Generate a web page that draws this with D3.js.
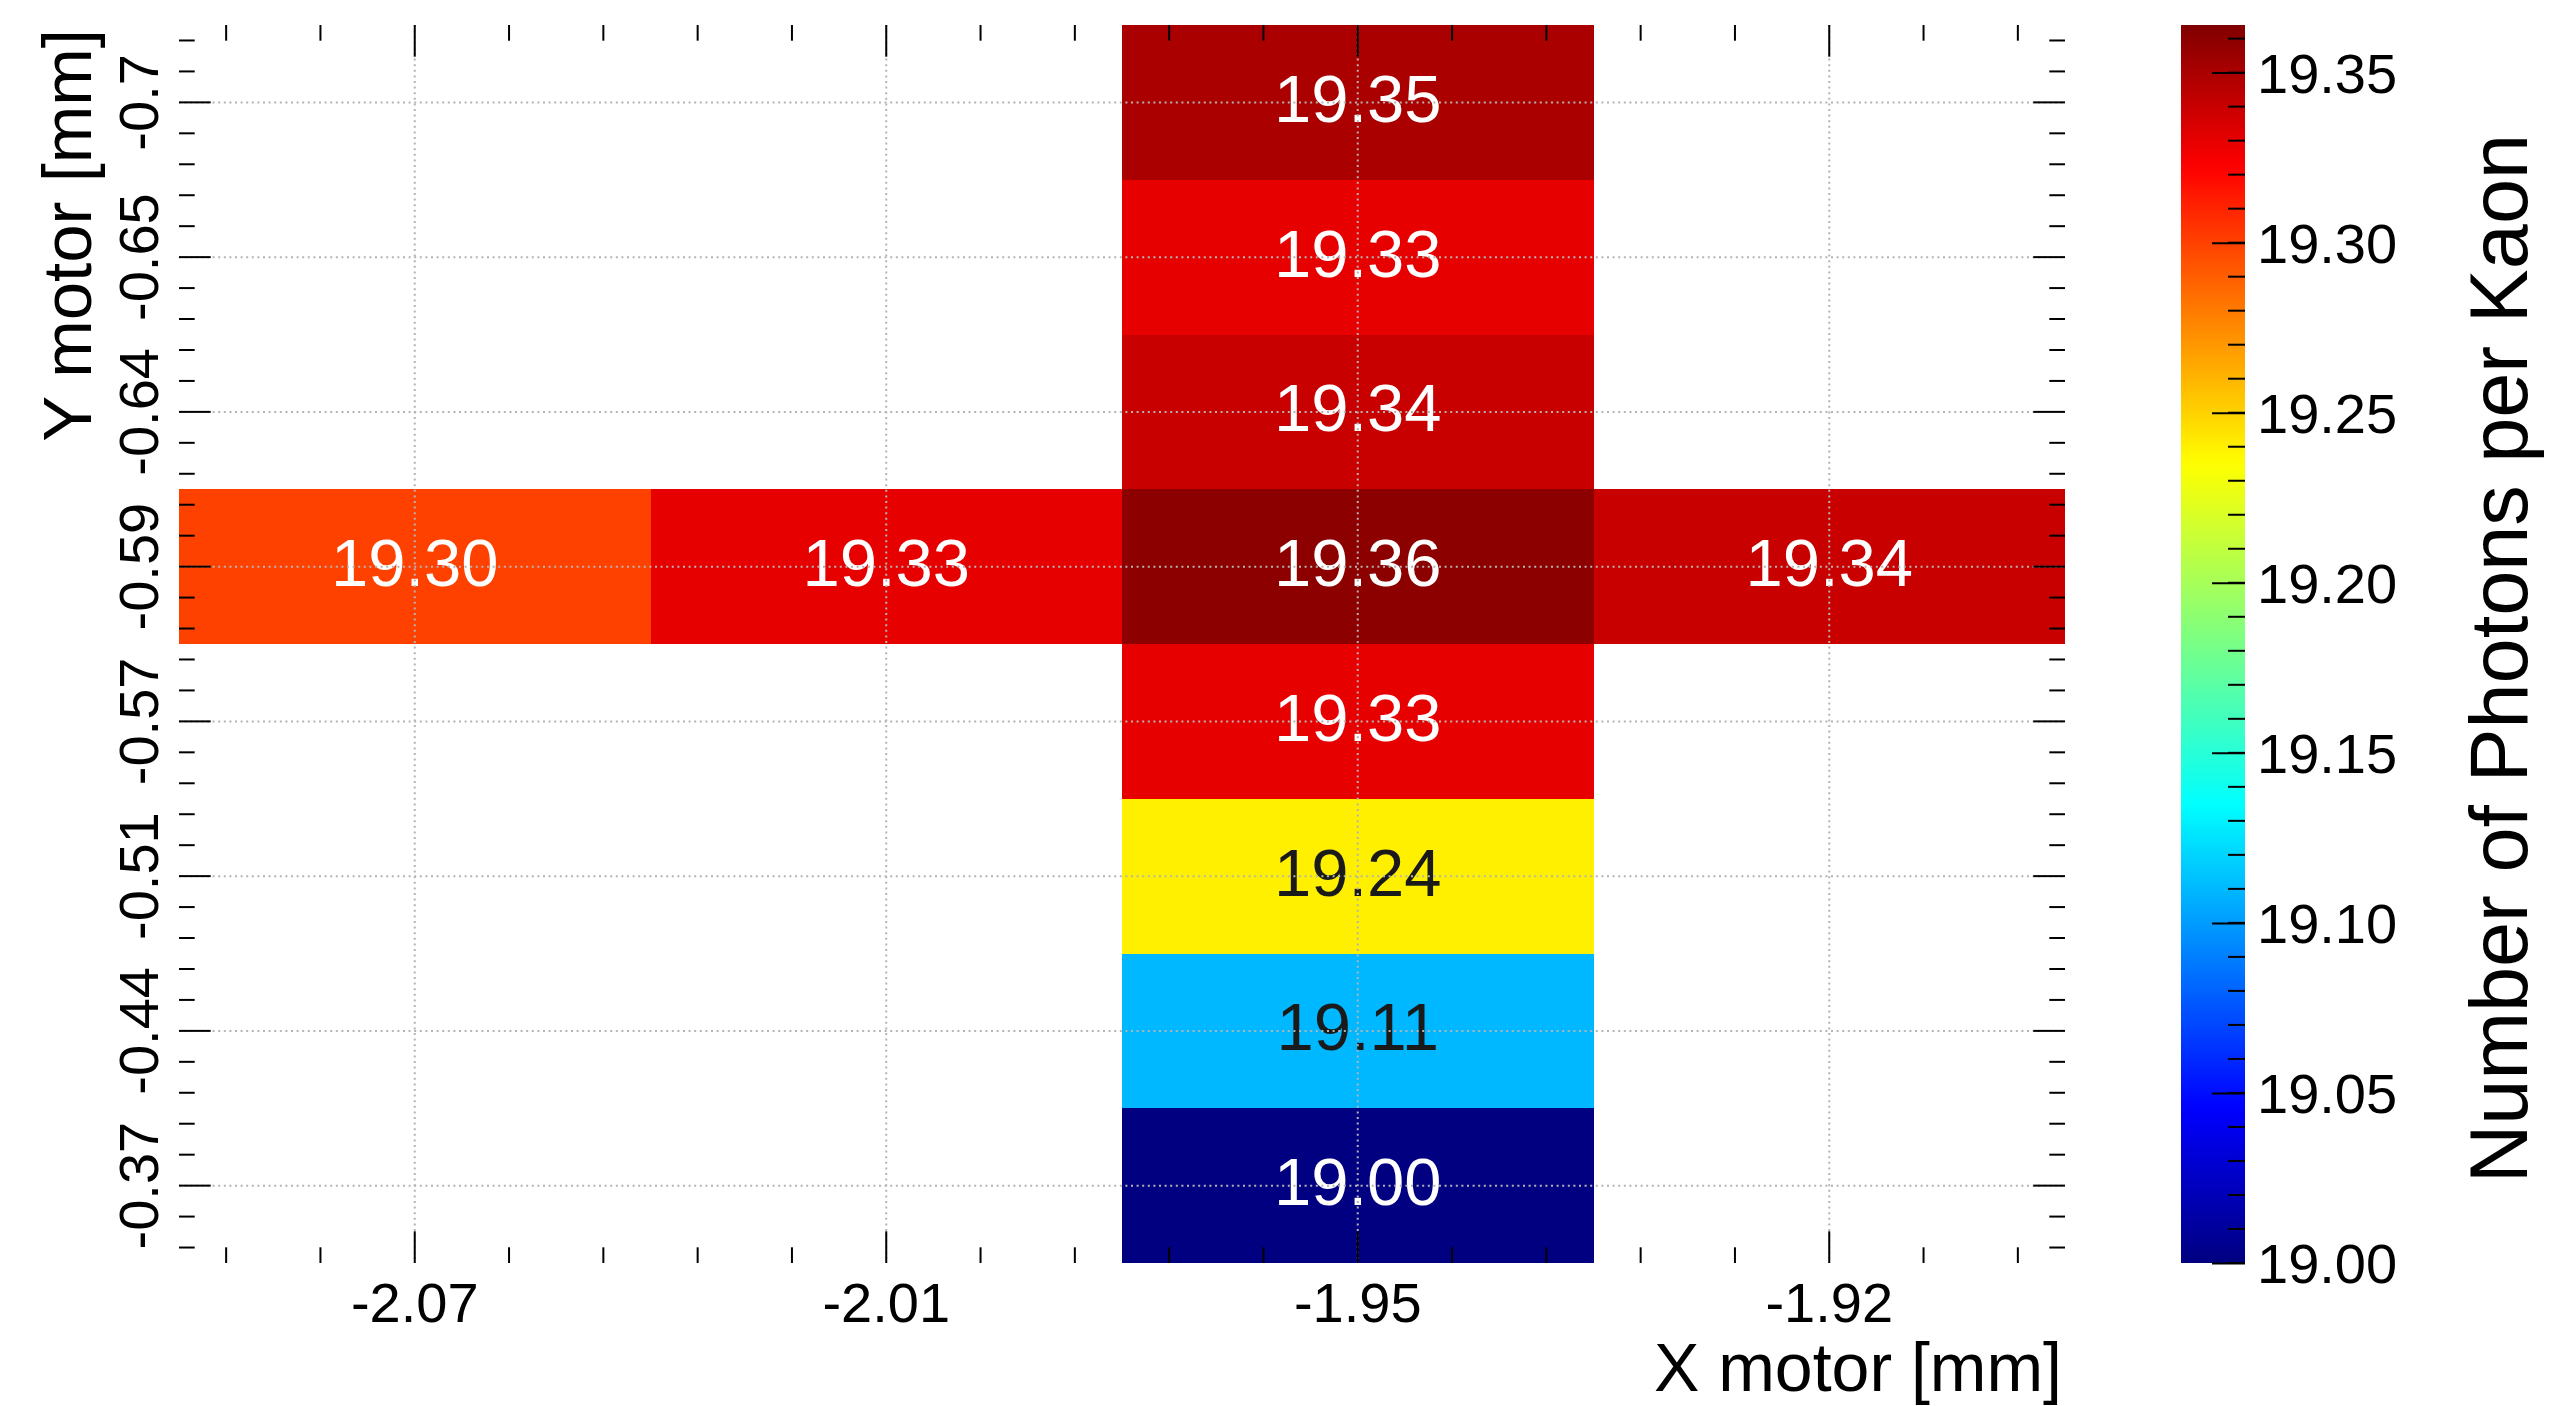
<!DOCTYPE html>
<html>
<head>
<meta charset="utf-8">
<title>Number of Photons per Kaon — motor scan</title>
<script src="https://cdn.jsdelivr.net/npm/d3@7"></script>
<style>
  html, body { margin: 0; padding: 0; background: #fff; }
  svg { display: block; font-family: "Liberation Sans", Arial, Helvetica, sans-serif; }
</style>
</head>
<body>
<svg id="chart" width="2550" height="1406"></svg>
<script>
// ---- data -------------------------------------------------------------
// X motor bin labels (left to right)
const xLabels = ["-2.07", "-2.01", "-1.95", "-1.92"];
// Y motor bin labels (bottom to top)
const yLabels = ["-0.37", "-0.44", "-0.51", "-0.57", "-0.59", "-0.64", "-0.65", "-0.7"];

// filled cells: x bin, y bin, mean number of photons per kaon
const cellX = ["-1.95", "-1.95", "-1.95", "-1.95", "-1.95", "-1.95", "-1.95", "-1.95",
               "-2.07", "-2.01", "-1.92"];
const cellY = ["-0.7", "-0.65", "-0.64", "-0.59", "-0.57", "-0.51", "-0.44", "-0.37",
               "-0.59", "-0.59", "-0.59"];
const cellValues = [19.35, 19.33, 19.34, 19.36, 19.33, 19.24, 19.11, 19.00,
                    19.30, 19.33, 19.34];

// z axis (palette) range
const zRange = [19.00, 19.364];

// ---- layout -----------------------------------------------------------
const W = 2550, H = 1406;
const frame = { left: 179, right: 2065, top: 25, bottom: 1263 };
const bar = { left: 2181, right: 2245 };
const majorLen = 31.7, minorLen = 15.7;
const tickColor = "#000";

const svg = d3.select("#chart");
svg.append("rect").attr("width", W).attr("height", H).attr("fill", "#fff");

const x = d3.scaleBand().domain(xLabels).range([frame.left, frame.right]).padding(0);
const y = d3.scaleBand().domain(yLabels.slice().reverse()).range([frame.top, frame.bottom]).padding(0);
const bw = x.bandwidth(), bh = y.bandwidth();

// rainbow palette: navy -> blue -> cyan -> yellow -> red -> dark red
const rainbow = d3.scaleLinear()
  .domain([0, 0.125, 0.37, 0.645, 0.885, 1])
  .range(["#000080", "#0000ff", "#00ffff", "#ffff00", "#ff0000", "#800000"])
  .interpolate(d3.interpolateRgb)
  .clamp(true);
const zNorm = d3.scaleLinear().domain(zRange).range([0, 1]).clamp(true);
const color = v => rainbow(zNorm(v));

const cells = cellValues.map((v, i) => ({ x: cellX[i], y: cellY[i], v }));

// ---- cells ------------------------------------------------------------
svg.append("g").attr("shape-rendering", "crispEdges")
  .selectAll("rect").data(cells).join("rect")
  .attr("x", d => x(d.x))
  .attr("y", d => y(d.y))
  .attr("width", bw)
  .attr("height", bh)
  .attr("fill", d => color(d.v));

// cell value labels, dark on light fills
const isLight = c => { const r = d3.rgb(c); return (0.299 * r.r + 0.587 * r.g + 0.114 * r.b) / 255 > 0.5; };
svg.append("g")
  .selectAll("text").data(cells).join("text")
  .attr("x", d => x(d.x) + bw / 2)
  .attr("y", d => y(d.y) + bh / 2)
  .attr("dy", "0.29em")
  .attr("text-anchor", "middle")
  .attr("font-size", 67)
  .attr("fill", d => isLight(color(d.v)) ? "#1a1a1a" : "#fff")
  .text(d => d3.format(".2f")(d.v));

// ---- grid -------------------------------------------------------------
const grid = svg.append("g")
  .attr("stroke", "#b4b4b4").attr("stroke-width", 2).attr("stroke-dasharray", "2 3.6");
grid.selectAll("line.gx").data(xLabels).join("line").attr("class", "gx")
  .attr("x1", d => x(d) + bw / 2).attr("x2", d => x(d) + bw / 2)
  .attr("y1", frame.top).attr("y2", frame.bottom);
grid.selectAll("line.gy").data(yLabels).join("line").attr("class", "gy")
  .attr("y1", d => y(d) + bh / 2).attr("y2", d => y(d) + bh / 2)
  .attr("x1", frame.left).attr("x2", frame.right);

// ---- axes -------------------------------------------------------------
const fs = 56;
const minorPos = (scale, band) => scale.domain().flatMap(c =>
  d3.range(5).filter(k => k !== 2).map(k => scale(c) + band * (k + 0.5) / 5));

function styleAxis(g) {
  g.select(".domain").remove();
  g.selectAll(".tick line").attr("stroke", tickColor).attr("stroke-width", 2);
  g.selectAll("text").attr("font-size", fs).attr("fill", "#000").attr("font-family", null);
}

// bottom
const gxb = svg.append("g").attr("transform", `translate(0,${frame.bottom})`)
  .call(d3.axisBottom(x).tickSizeInner(-majorLen).tickSizeOuter(0))
  .call(styleAxis);
gxb.selectAll("text").attr("y", 59).attr("dy", null);
// top
svg.append("g").attr("transform", `translate(0,${frame.top})`)
  .call(d3.axisTop(x).tickSizeInner(-majorLen).tickSizeOuter(0).tickFormat(""))
  .call(styleAxis);
// left
const gyl = svg.append("g").attr("transform", `translate(${frame.left},0)`)
  .call(d3.axisLeft(y).tickSizeInner(-majorLen).tickSizeOuter(0))
  .call(styleAxis);
gyl.selectAll("text")
  .attr("x", null).attr("dy", null)
  .attr("text-anchor", "middle")
  .attr("transform", `translate(${158 - frame.left},0) rotate(-90)`);
// right
svg.append("g").attr("transform", `translate(${frame.right},0)`)
  .call(d3.axisRight(y).tickSizeInner(-majorLen).tickSizeOuter(0).tickFormat(""))
  .call(styleAxis);

// minor ticks on all four sides
const minor = svg.append("g").attr("stroke", tickColor).attr("stroke-width", 2);
const mx = minorPos(x, bw), my = minorPos(y, bh);
minor.selectAll("line.mb").data(mx).join("line").attr("class", "mb")
  .attr("x1", d => d).attr("x2", d => d).attr("y1", frame.bottom).attr("y2", frame.bottom - minorLen);
minor.selectAll("line.mt").data(mx).join("line").attr("class", "mt")
  .attr("x1", d => d).attr("x2", d => d).attr("y1", frame.top).attr("y2", frame.top + minorLen);
minor.selectAll("line.ml").data(my).join("line").attr("class", "ml")
  .attr("y1", d => d).attr("y2", d => d).attr("x1", frame.left).attr("x2", frame.left + minorLen);
minor.selectAll("line.mr").data(my).join("line").attr("class", "mr")
  .attr("y1", d => d).attr("y2", d => d).attr("x1", frame.right).attr("x2", frame.right - minorLen);

// axis titles
svg.append("text")
  .attr("x", 2062).attr("y", 1391)
  .attr("text-anchor", "end").attr("font-size", 68)
  .text("X motor [mm]");
svg.append("text")
  .attr("transform", `translate(91,29) rotate(-90)`)
  .attr("text-anchor", "end").attr("font-size", 69)
  .text("Y motor [mm]");

// ---- colour bar -------------------------------------------------------
const cScale = d3.scaleLinear().domain(zRange).range([frame.bottom, frame.top]);
const grad = svg.append("defs").append("linearGradient")
  .attr("id", "zgrad").attr("x1", 0).attr("y1", 1).attr("x2", 0).attr("y2", 0);
grad.selectAll("stop").data(d3.range(0, 1.0001, 0.01)).join("stop")
  .attr("offset", d => d)
  .attr("stop-color", d => rainbow(d));
svg.append("rect")
  .attr("x", bar.left).attr("y", frame.top)
  .attr("width", bar.right - bar.left).attr("height", frame.bottom - frame.top)
  .attr("fill", "url(#zgrad)");

const gz = svg.append("g").attr("transform", `translate(${bar.right},0)`)
  .call(d3.axisRight(cScale).tickValues(cScale.ticks(7)).tickFormat(d3.format(".2f"))
        .tickSizeInner(-33).tickSizeOuter(0).tickPadding(12))
  .call(styleAxis);
gz.selectAll("text").attr("dy", "0.35em");
svg.append("g").attr("stroke", tickColor).attr("stroke-width", 2)
  .selectAll("line").data(cScale.ticks(40)).join("line")
  .attr("x1", bar.right - 17).attr("x2", bar.right)
  .attr("y1", d => cScale(d)).attr("y2", d => cScale(d));

svg.append("text")
  .attr("transform", `translate(2527,134) rotate(-90)`)
  .attr("text-anchor", "end").attr("font-size", 81)
  .text("Number of Photons per Kaon");
</script>
</body>
</html>
